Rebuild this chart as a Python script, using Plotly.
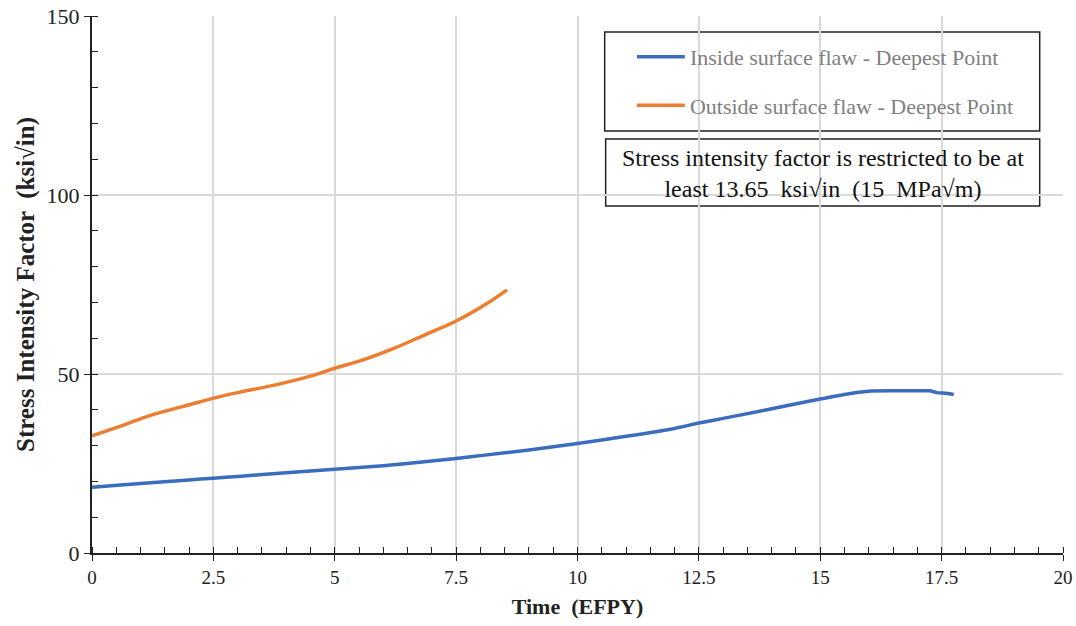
import plotly.graph_objects as go

# Inside surface flaw - Deepest Point
t_inside = [0, 1, 2, 2.5, 3, 4, 5, 6, 7, 7.5, 8, 9, 10, 11, 12, 12.5, 13, 13.75,
            14, 15, 15.5, 16, 16.5, 17, 17.25, 17.4, 17.6, 17.75]
k_inside = [18.4, 19.4, 20.4, 20.9, 21.4, 22.4, 23.4, 24.4, 25.7, 26.4, 27.2, 28.8,
            30.6, 32.6, 34.8, 36.3, 37.6, 39.6, 40.3, 43.0, 44.3, 45.2, 45.3, 45.3,
            45.3, 44.8, 44.6, 44.3]

# Outside surface flaw - Deepest Point
t_outside = [0, 0.5, 1.22, 2, 2.49, 3, 3.76, 4.5, 5.0, 5.6, 6.23, 6.8, 7.47, 8.16, 8.55]
k_outside = [32.7, 35.0, 38.5, 41.4, 43.2, 44.8, 46.9, 49.4, 51.6, 54.0, 57.2, 60.6,
             64.6, 69.9, 73.5]

x_ticks = [0, 2.5, 5, 7.5, 10, 12.5, 15, 17.5, 20]
x_labels = ["0", "2.5", "5", "7.5", "10", "12.5", "15", "17.5", "20"]
y_ticks = [0, 50, 100, 150]

names = ["Inside surface flaw - Deepest Point", "Outside surface flaw - Deepest Point"]
colors = ["#3A6DBE", "#ED7D31"]
note = "Stress intensity factor is restricted to be at<br>least 13.65  ksi√in  (15  MPa√m)"

FONT = "Liberation Serif"

fig = go.Figure()
fig.add_trace(go.Scatter(x=t_inside, y=k_inside, mode="lines", name=names[0],
                         line=dict(color=colors[0], width=3.5, shape="spline", smoothing=0.6),
                         legendgroup="a"))
fig.add_trace(go.Scatter(x=t_outside, y=k_outside, mode="lines", name=names[1],
                         line=dict(color=colors[1], width=3.5, shape="spline", smoothing=0.6),
                         legendgroup="b"))

fig.update_layout(
    width=1076, height=626,
    margin=dict(l=92, r=13, t=16, b=73),
    plot_bgcolor="white", paper_bgcolor="white",
    font=dict(family=FONT, size=19, color="#222222"),
    showlegend=True,
    legend=dict(x=0.556, y=0.963, xanchor="left", yanchor="top",
                bgcolor="rgba(0,0,0,0)", borderwidth=0,
                font=dict(family=FONT, size=22, color="#808080"),
                tracegroupgap=17, itemwidth=48, traceorder="grouped"),
    xaxis=dict(range=[0, 20], tickvals=x_ticks, ticktext=x_labels, automargin=False,
               showgrid=True, gridcolor="#D9D9D9", gridwidth=1.5,
               showline=True, linecolor="#222222", linewidth=2,
               ticks="outside", ticklen=6, tickcolor="#222222",
               minor=dict(dtick=0.5, ticks="inside", ticklen=6, tickcolor="#222222", showgrid=False),
               zeroline=False,
               title=dict(text="<b>Time  (EFPY)</b>", font=dict(family=FONT, size=22, color="#222222"),
                          standoff=12),
               tickfont=dict(family=FONT, size=19, color="#222222")),
    yaxis=dict(range=[0, 150], tickvals=y_ticks, automargin=False,
               showgrid=True, gridcolor="#D9D9D9", gridwidth=1.5,
               showline=True, linecolor="#222222", linewidth=2,
               ticks="outside", ticklen=6, tickcolor="#222222",
               minor=dict(dtick=10, ticks="inside", ticklen=6, tickcolor="#222222", showgrid=False),
               zeroline=False,
               title=dict(text="<b>Stress Intensity Factor  (ksi√in)</b>",
                          font=dict(family=FONT, size=25, color="#222222"), standoff=5),
               tickfont=dict(family=FONT, size=22, color="#222222")),
    shapes=[
        dict(type="rect", xref="paper", yref="paper", x0=0.528, x1=0.976, y0=0.786, y1=0.970,
             line=dict(color="#222222", width=1.5), fillcolor="white", layer="below"),
        dict(type="rect", xref="paper", yref="paper", x0=0.529, x1=0.976, y0=0.646, y1=0.771,
             line=dict(color="#222222", width=1.5), fillcolor="white", layer="below"),
    ],
    annotations=[
        dict(text=note, xref="paper", yref="paper", x=0.7525, y=0.706,
             xanchor="center", yanchor="middle", showarrow=False, align="center",
             font=dict(family=FONT, size=24, color="#111111")),
    ],
)

fig.write_html("out.html", config={"displayModeBar": False},
               post_script="document.body.style.margin='0px';")
